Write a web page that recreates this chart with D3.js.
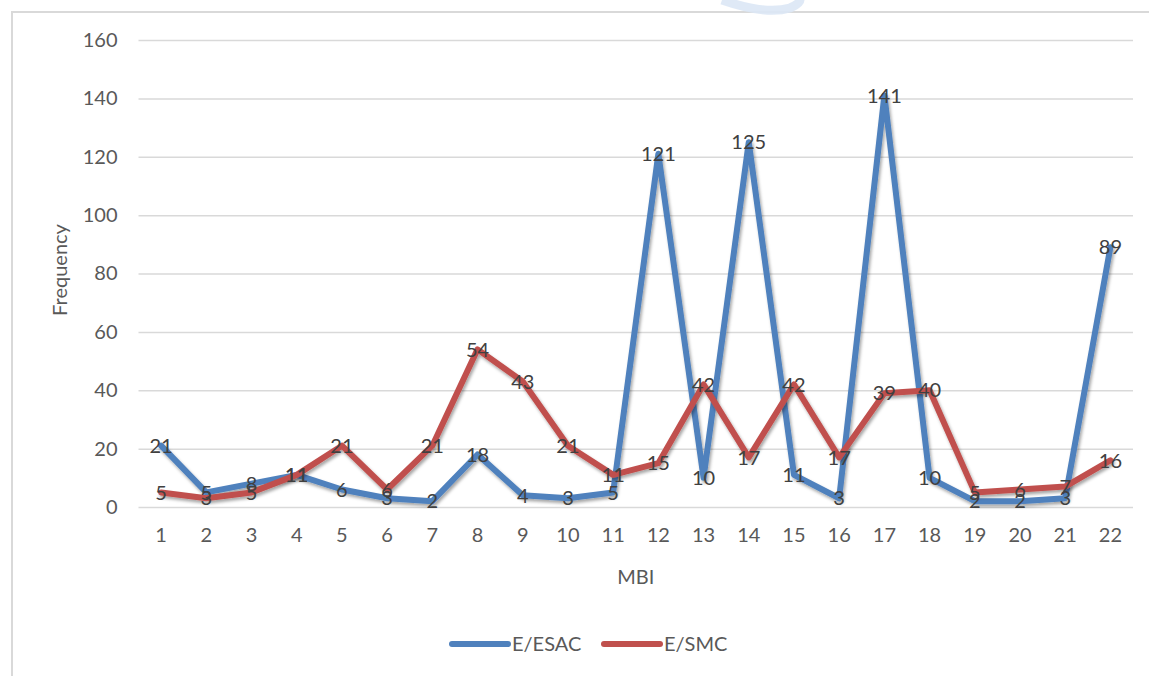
<!DOCTYPE html>
<html>
<head>
<meta charset="utf-8">
<script src="https://cdn.jsdelivr.net/npm/d3@7"></script>
<style>
  html, body { margin: 0; padding: 0; background: #fff; }
  svg { display: block; }
  text { font-family: Lato, "Open Sans", sans-serif; }
</style>
</head>
<body>
<svg id="chart" width="1149" height="676"></svg>
<script>
// MBI item numbers on the x axis
const categories = ["1","2","3","4","5","6","7","8","9","10","11","12","13","14","15","16","17","18","19","20","21","22"];
// Frequency per item for each group
const esacValues = [21,5,8,11,6,3,2,18,4,3,5,121,10,125,11,3,141,10,2,2,3,89];
const smcValues  = [5,3,5,11,21,6,21,54,43,21,11,15,42,17,42,17,39,40,5,6,7,16];
const yTicks = [0,20,40,60,80,100,120,140,160];
const seriesNames = ["E/ESAC", "E/SMC"];

const series = [
  { name: seriesNames[0], values: esacValues, color: "#4F81BD" },
  { name: seriesNames[1], values: smcValues,  color: "#C0504D" }
];

const svg = d3.select("#chart");
const W = 1149, H = 676;
const plot = { left: 138.5, right: 1133, top: 40, bottom: 507 };
const FS = "20px";

// Outer chart frame
svg.append("path")
  .attr("d", `M12,${H} L12,12 L${W},12`)
  .attr("fill", "none")
  .attr("stroke", "#d9d9d9")
  .attr("stroke-width", 2);

// faint decorative stroke at the top edge
svg.append("path")
  .attr("d", "M722,0 C745,8 770,14 790,8 C797,5 800,2 800,0")
  .attr("fill", "none")
  .attr("stroke", "#dbe7f5")
  .attr("stroke-width", 9)
  .attr("opacity", 0.9);

const x = d3.scaleBand()
  .domain(categories)
  .range([plot.left, plot.right])
  .padding(0);

const y = d3.scaleLinear()
  .domain([0, 160])
  .range([plot.bottom, plot.top]);

const cx = c => x(c) + x.bandwidth() / 2;

// shadow for the series lines
const defs = svg.append("defs");
const f = defs.append("filter").attr("id", "shadow")
  .attr("x", "-5%").attr("y", "-5%").attr("width", "110%").attr("height", "110%");
f.append("feDropShadow")
  .attr("dx", 1.5).attr("dy", 2.5).attr("stdDeviation", 1.6)
  .attr("flood-color", "#000").attr("flood-opacity", 0.35);

// Gridlines + y axis labels
const yAxis = d3.axisLeft(y)
  .tickValues(yTicks)
  .tickSize(-(plot.right - plot.left))
  .tickPadding(21)
  .tickFormat(d3.format("d"));

const gy = svg.append("g")
  .attr("transform", `translate(${plot.left},0)`)
  .call(yAxis);
gy.select(".domain").remove();
gy.selectAll(".tick line").attr("stroke", "#d9d9d9").attr("stroke-width", 1.5);
gy.selectAll(".tick text")
  .attr("fill", "#595959")
  .style("font-size", FS);

// X axis labels
const xAxis = d3.axisBottom(x).tickSize(0).tickPadding(21);
const gx = svg.append("g")
  .attr("transform", `translate(0,${plot.bottom})`)
  .call(xAxis);
gx.select(".domain").remove();
gx.selectAll(".tick text")
  .attr("fill", "#595959")
  .style("font-size", FS);

// Axis titles
svg.append("text")
  .attr("x", (plot.left + plot.right) / 2)
  .attr("y", 584)
  .attr("text-anchor", "middle")
  .attr("fill", "#595959")
  .style("font-size", FS)
  .text("MBI");

svg.append("text")
  .attr("transform", `translate(67,270) rotate(-90)`)
  .attr("text-anchor", "middle")
  .attr("fill", "#595959")
  .style("font-size", FS)
  .text("Frequency");

// Lines
const line = d3.line()
  .x((d, i) => cx(categories[i]))
  .y(d => y(d));

svg.append("g").selectAll("path")
  .data(series)
  .join("path")
  .attr("d", s => line(s.values))
  .attr("fill", "none")
  .attr("stroke", s => s.color)
  .attr("stroke-width", 6)
  .attr("stroke-linejoin", "round")
  .attr("stroke-linecap", "round")
  .attr("filter", "url(#shadow)");

// Value labels centred on the points
series.forEach(s => {
  svg.append("g").selectAll("text")
    .data(s.values)
    .join("text")
    .attr("x", (d, i) => cx(categories[i]))
    .attr("y", d => y(d))
    .attr("dy", "0.36em")
    .attr("text-anchor", "middle")
    .attr("fill", "#404040")
    .style("font-size", FS)
    .text(d => d);
});

// Legend
const legend = svg.append("g").attr("transform", "translate(452,644)");
const items = legend.selectAll("g")
  .data(series)
  .join("g")
  .attr("transform", (d, i) => `translate(${i * 152},0)`);
items.append("line")
  .attr("x1", 0).attr("x2", 56)
  .attr("y1", 0).attr("y2", 0)
  .attr("stroke", d => d.color)
  .attr("stroke-width", 6)
  .attr("stroke-linecap", "round");
items.append("text")
  .attr("x", 60)
  .attr("y", 0)
  .attr("dy", "0.36em")
  .attr("fill", "#595959")
  .style("font-size", FS)
  .text(d => d.name);
</script>
</body>
</html>
